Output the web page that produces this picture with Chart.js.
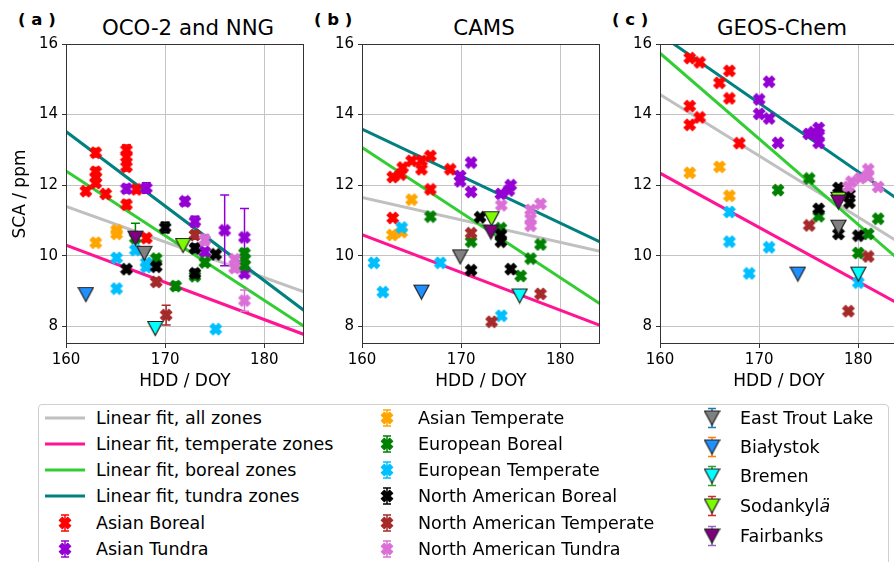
<!DOCTYPE html>
<html lang="en">
<head>
<meta charset="UTF-8">
<script src="https://cdn.jsdelivr.net/npm/chart.js"></script>
<style>
body { margin: 0; background: #fff; }
#fig { position: relative; width: 894px; height: 562px; overflow: hidden; font-family: 'DejaVu Sans', sans-serif; color: #000; }
.panel { position: absolute; top: 0; width: 312px; height: 400px; }
.ptitle { position: absolute; top: 16px; width: 244px; font-size: 21.3px; line-height: 24px; text-align: center; white-space: nowrap; }
.plabel { position: absolute; top: 8px; font-size: 16.5px; font-weight: bold; line-height: 24px; white-space: pre; }
#legend { position: absolute; left: 38px; top: 404px; width: 849px; height: 180px; border: 1px solid #d0d0d0; border-radius: 4px; }
.ltext { position: absolute; font-size: 17.5px; line-height: 20px; white-space: nowrap; }
.lhandle { position: absolute; }
</style>
</head>
<body>
<div id="fig">
  <div class="plabel" style="left:18px">( a )</div>
  <div class="plabel" style="left:314px">( b )</div>
  <div class="plabel" style="left:612px">( c )</div>
  <div class="ptitle" style="left:66px">OCO-2 and NNG</div>
  <div class="ptitle" style="left:362px">CAMS</div>
  <div class="ptitle" style="left:660px">GEOS-Chem</div>
  <div class="panel" style="left:0px"><canvas id="ca" width="312" height="400"></canvas></div>
  <div class="panel" style="left:296px"><canvas id="cb" width="312" height="400"></canvas></div>
  <div class="panel" style="left:594px"><canvas id="cc" width="312" height="400"></canvas></div>
  <div id="legend"></div>
</div>
<script>
const xTicks = [160, 170, 180];
const yTicks = [8, 10, 12, 14, 16];
const fitX = [160, 184];

const fitNames = ['Linear fit, all zones', 'Linear fit, temperate zones', 'Linear fit, boreal zones', 'Linear fit, tundra zones'];
const fitColors = ['#c0c0c0', '#ff1493', '#32cd32', '#008080'];
const zoneNames = ['Asian Boreal', 'Asian Tundra', 'Asian Temperate', 'European Boreal', 'European Temperate',
  'North American Boreal', 'North American Temperate', 'North American Tundra'];
const zoneColors = ['#ff0000', '#9400d3', '#ffa500', '#008000', '#00bfff', '#000000', '#a52a2a', '#da70d6'];
const siteNames = ['East Trout Lake', 'Białystok', 'Bremen', 'Sodankylä', 'Fairbanks'];
const siteColors = ['#808080', '#1e90ff', '#00ffff', '#7cfc00', '#800080'];
const siteBarColors = ['#1f77b4', '#ff7f0e', '#2ca02c', '#d62728', '#9467bd'];

// (a) OCO-2 and NNG  [x, y, error]
const oco_asianBoreal = [[162.0, 11.83, 0.1], [163.0, 12.92, 0.12], [163.0, 12.38, 0.12], [163.0, 12.22, 0.12], [163.0, 12.06, 0.1],
  [164.0, 11.75, 0.08], [166.1, 13.0, 0.14], [166.1, 12.8, 0.12], [166.1, 12.52, 0.12], [166.1, 11.45, 0.12], [167.1, 11.88, 0.1], [168.1, 10.5, 0.1]];
const oco_asianTundra = [[166.1, 11.9, 0.12], [168.1, 11.92, 0.15], [172.0, 11.54, 0.12], [173.0, 10.97, 0.15], [174.0, 10.11, 0.1],
  [176.0, 10.72, 1.0], [178.0, 10.52, 0.82], [178.0, 9.5, 0.1]];
const oco_asianTemperate = [[163.0, 10.37, 0.1], [165.1, 10.72, 0.08], [165.1, 10.62, 0.08]];
const oco_euBoreal = [[167.0, 10.5, 0.42], [169.1, 9.92, 0.1], [171.06, 9.14, 0.12], [173.0, 9.42, 0.1], [174.0, 9.81, 0.1],
  [178.0, 10.07, 0.12], [178.0, 9.9, 0.12], [178.0, 9.73, 0.12]];
const oco_euTemperate = [[165.1, 9.94, 0.08], [165.1, 9.07, 0.08], [167.0, 10.16, 0.1], [168.1, 9.8, 0.08], [168.1, 9.68, 0.08], [175.1, 7.92, 0.05]];
const oco_naBoreal = [[166.1, 9.62, 0.08], [169.1, 9.69, 0.1], [170.0, 10.8, 0.15], [173.0, 10.21, 0.12], [173.0, 9.5, 0.12], [175.1, 10.04, 0.08]];
const oco_naTemperate = [[169.1, 9.26, 0.1], [170.1, 8.32, 0.28], [173.0, 10.59, 0.12]];
const oco_naTundra = [[174.0, 10.45, 0.15], [177.0, 9.9, 0.1], [177.0, 9.65, 0.1], [178.0, 8.73, 0.3]];
const oco_sites = [[167.9, 10.07], [162.0, 8.9], [169.0, 7.94], [171.8, 10.29], [167.0, 10.5]];
const oco_fits = [[11.40, 8.98], [10.30, 7.77], [12.40, 8.0], [13.52, 8.45]];

// (b) CAMS
const cams_asianBoreal = [[163.1, 12.23], [163.9, 12.3], [164.1, 12.5], [165.0, 12.69], [166.0, 12.69], [166.0, 12.45],
  [166.9, 12.83], [166.9, 11.88], [168.9, 12.45], [163.1, 11.07]];
const cams_asianTundra = [[169.9, 12.26], [169.9, 12.11], [171.0, 12.64], [171.0, 11.81], [174.0, 11.75], [174.8, 11.85], [175.0, 12.0]];
const cams_asianTemperate = [[165.0, 11.59], [163.06, 10.59], [164.0, 10.67]];
const cams_euBoreal = [[166.9, 11.11], [171.0, 10.4], [174.0, 10.78], [178.0, 10.32], [177.0, 9.92], [176.0, 9.43]];
const cams_euTemperate = [[164.0, 10.8], [161.2, 9.8], [162.1, 8.97], [167.9, 9.8], [174.05, 8.3]];
const cams_naBoreal = [[171.9, 11.09], [174.0, 10.6], [174.0, 10.4], [171.0, 9.59], [175.0, 9.62]];
const cams_naTemperate = [[171.0, 10.64], [178.0, 8.92], [173.07, 8.13]];
const cams_naTundra = [[174.05, 11.43], [177.0, 11.3], [177.0, 11.05], [177.0, 10.85], [178.0, 11.47]];
const cams_sites = [[169.9, 9.97], [166.0, 8.97], [175.9, 8.86], [173.07, 11.05], [173.0, 10.67]];
const cams_fits = [[11.65, 10.13], [10.60, 8.03], [13.07, 8.64], [13.59, 10.39]];

// (c) GEOS-Chem
const geos_asianBoreal = [[163.0, 15.6], [164.0, 15.48], [167.0, 15.24], [166.0, 14.9], [167.0, 14.46], [163.0, 14.24],
  [164.0, 13.92], [163.0, 13.71], [168.0, 13.19]];
const geos_asianTundra = [[171.0, 14.93], [170.0, 14.43], [170.0, 14.02], [171.0, 13.89], [171.9, 13.2], [175.0, 13.45],
  [175.5, 13.5], [176.0, 13.62], [176.0, 13.4], [176.0, 13.2]];
const geos_asianTemperate = [[163.0, 12.35], [166.0, 12.52], [167.0, 11.7]];
const geos_euBoreal = [[171.9, 11.86], [175.05, 12.19], [176.0, 11.12], [182.0, 11.05], [181.0, 10.62], [180.0, 10.08]];
const geos_euTemperate = [[167.0, 11.24], [167.0, 10.4], [171.0, 10.24], [169.0, 9.5], [180.0, 9.24]];
const geos_naBoreal = [[178.0, 11.92], [179.1, 11.75], [179.1, 11.5], [176.0, 11.33], [178.0, 10.62], [180.0, 10.57]];
const geos_naTemperate = [[175.05, 10.86], [181.0, 9.98], [179.0, 8.43]];
const geos_naTundra = [[181.0, 12.45], [180.2, 12.2], [181.0, 12.25], [179.3, 12.1], [182.0, 11.95], [179.0, 11.95]];
const geos_sites = [[178.0, 10.81], [173.9, 9.48], [180.0, 9.48], [178.0, 11.6], [178.0, 11.52]];
const geos_fits = [[14.57, 10.4], [12.34, 8.65], [15.74, 9.91], [16.27, 11.6]];

Chart.defaults.font.family = "'DejaVu Sans', sans-serif";
Chart.defaults.color = '#000';

function xMarker(color) {
  const c = document.createElement('canvas');
  c.width = 14; c.height = 14;
  const g = c.getContext('2d');
  const L = 6, w = 2.2;
  g.translate(7, 7);
  g.rotate(Math.PI / 4);
  g.beginPath();
  [[-w, -L], [w, -L], [w, -w], [L, -w], [L, w], [w, w], [w, L], [-w, L], [-w, w], [-L, w], [-L, -w], [-w, -w]]
    .forEach((p, i) => i ? g.lineTo(p[0], p[1]) : g.moveTo(p[0], p[1]));
  g.closePath();
  g.fillStyle = color; g.strokeStyle = color; g.lineWidth = 1; g.lineJoin = 'round';
  g.fill(); g.stroke();
  return c;
}

function triMarker(color) {
  const c = document.createElement('canvas');
  c.width = 17; c.height = 17;
  const g = c.getContext('2d');
  g.beginPath();
  g.moveTo(1, 1.5); g.lineTo(16, 1.5); g.lineTo(8.5, 15.5); g.closePath();
  g.fillStyle = color; g.fill();
  g.strokeStyle = '#222'; g.lineWidth = 1.2; g.stroke();
  return c;
}

// error bars, drawn just before their own dataset
const errorBars = {
  id: 'errorBars',
  beforeDatasetDraw(chart, args) {
    const ds = chart.data.datasets[args.index];
    if (!ds.errColor) return;
    const { ctx, chartArea: a } = chart;
    const xs = chart.scales.x, ys = chart.scales.y;
    ctx.save();
    ctx.beginPath(); ctx.rect(a.left, a.top, a.right - a.left, a.bottom - a.top); ctx.clip();
    ctx.strokeStyle = ds.errColor; ctx.lineWidth = 1.5;
    ds.data.forEach(p => {
      if (!p.e) return;
      const px = xs.getPixelForValue(p.x);
      const y1 = ys.getPixelForValue(p.y + p.e), y2 = ys.getPixelForValue(p.y - p.e);
      ctx.beginPath();
      ctx.moveTo(px, y1); ctx.lineTo(px, y2);
      ctx.moveTo(px - 4.5, y1); ctx.lineTo(px + 4.5, y1);
      ctx.moveTo(px - 4.5, y2); ctx.lineTo(px + 4.5, y2);
      ctx.stroke();
    });
    ctx.restore();
  }
};

const frame = {
  id: 'frame',
  afterDatasetsDraw(chart) {
    const { ctx, chartArea: a } = chart;
    ctx.save();
    ctx.strokeStyle = '#333'; ctx.lineWidth = 1;
    ctx.strokeRect(Math.round(a.left) + 0.5, Math.round(a.top) + 0.5, Math.round(a.right - a.left) - 1, Math.round(a.bottom - a.top) - 1);
    ctx.restore();
  }
};

function makePanel(id, zones, sites, fits, yTitle) {
  const datasets = [];
  fits.forEach((f, j) => datasets.push({
    data: fitX.map((x, k) => ({ x: x, y: f[k] })),
    showLine: true, borderColor: fitColors[j], borderWidth: 3, pointRadius: 0, order: 40 - j
  }));
  zones.forEach((pts, i) => datasets.push({
    data: pts.map(p => ({ x: p[0], y: p[1], e: p[2] || 0 })),
    pointStyle: xMarker(zoneColors[i]), pointRadius: 6, errColor: zoneColors[i], order: 30 - i
  }));
  sites.forEach((p, k) => datasets.push({
    data: [{ x: p[0], y: p[1] }],
    pointStyle: triMarker(siteColors[k]), pointRadius: 7, order: 10 - k
  }));

  new Chart(document.getElementById(id), {
    type: 'scatter',
    data: { datasets: datasets },
    plugins: [errorBars, frame],
    options: {
      responsive: false,
      animation: false,
      layout: { padding: { top: 44, right: 2, left: 0, bottom: 0 } },
      plugins: { legend: { display: false }, tooltip: { enabled: false } },
      scales: {
        x: {
          type: 'linear', min: 160, max: 184,
          afterBuildTicks: s => { s.ticks = xTicks.map(v => ({ value: v })); },
          afterFit: s => { s.height = 56; },
          ticks: { font: { size: 15 }, padding: 3, maxRotation: 0 },
          grid: { color: '#c4c4c4', tickColor: '#333', tickLength: 4 },
          border: { display: false },
          title: { display: true, text: 'HDD / DOY', font: { size: 17 }, padding: { top: 0, bottom: 8 } }
        },
        y: {
          type: 'linear', min: 7.5, max: 16,
          afterBuildTicks: s => { s.ticks = yTicks.map(v => ({ value: v })); },
          afterFit: s => { s.width = 66; },
          ticks: { font: { size: 15 }, padding: 4 },
          grid: { color: '#c4c4c4', tickColor: '#333', tickLength: 4 },
          border: { display: false },
          title: { display: yTitle, text: 'SCA / ppm', font: { size: 17 }, padding: { top: 10, bottom: 0 } }
        }
      }
    }
  });
}

makePanel('ca', [oco_asianBoreal, oco_asianTundra, oco_asianTemperate, oco_euBoreal, oco_euTemperate, oco_naBoreal, oco_naTemperate, oco_naTundra],
  oco_sites, oco_fits, true);
makePanel('cb', [cams_asianBoreal, cams_asianTundra, cams_asianTemperate, cams_euBoreal, cams_euTemperate, cams_naBoreal, cams_naTemperate, cams_naTundra],
  cams_sites, cams_fits, false);
makePanel('cc', [geos_asianBoreal, geos_asianTundra, geos_asianTemperate, geos_euBoreal, geos_euTemperate, geos_naBoreal, geos_naTemperate, geos_naTundra],
  geos_sites, geos_fits, false);

// legend
const legend = document.getElementById('legend');
const rowY = [13, 39, 65, 91, 118, 144];
const siteRowY = [13, 42, 71, 101, 131];

function addText(text, left, cy) {
  const d = document.createElement('div');
  d.className = 'ltext';
  d.style.left = left + 'px';
  d.style.top = (cy - 10) + 'px';
  if (text.endsWith('ä')) {
    d.textContent = text.slice(0, -1);
    const s = document.createElement('span');
    s.style.fontStyle = 'italic';
    s.textContent = 'ä';
    d.appendChild(s);
  } else {
    d.textContent = text;
  }
  legend.appendChild(d);
}

function addHandle(cv, cx, cy) {
  cv.className = 'lhandle';
  cv.style.left = (cx - cv.width / 2) + 'px';
  cv.style.top = (cy - cv.height / 2) + 'px';
  legend.appendChild(cv);
}

function lineHandle(color) {
  const c = document.createElement('canvas');
  c.width = 40; c.height = 6;
  const g = c.getContext('2d');
  g.fillStyle = color; g.fillRect(0, 1.5, 40, 3);
  return c;
}

function barHandle(barColor, marker, half) {
  const c = document.createElement('canvas');
  c.width = 18; c.height = 22;
  const g = c.getContext('2d');
  g.strokeStyle = barColor; g.lineWidth = 1.5;
  g.beginPath();
  g.moveTo(9, 11 - half); g.lineTo(9, 11 + half);
  g.moveTo(5, 11 - half); g.lineTo(13, 11 - half);
  g.moveTo(5, 11 + half); g.lineTo(13, 11 + half);
  g.stroke();
  g.drawImage(marker, 9 - marker.width / 2, 11 - marker.height / 2);
  return c;
}

// legend offsets are relative to the legend box (left 39, top 405)
fitNames.forEach((n, j) => {
  addHandle(lineHandle(fitColors[j]), 65 - 39, rowY[j]);
  addText(n, 96 - 39, rowY[j]);
});
zoneNames.forEach((n, i) => {
  const col = i < 2 ? 0 : 1;
  const row = i < 2 ? 4 + i : i - 2;
  const hx = col ? 387 : 65, tx = col ? 418 : 96;
  addHandle(barHandle(zoneColors[i], xMarker(zoneColors[i]), 8), hx - 39, rowY[row]);
  addText(n, tx - 39, rowY[row]);
});
siteNames.forEach((n, k) => {
  addHandle(barHandle(siteBarColors[k], triMarker(siteColors[k]), 9.5), 712 - 39, siteRowY[k]);
  addText(n, 740 - 39, siteRowY[k]);
});
</script>
</body>
</html>
